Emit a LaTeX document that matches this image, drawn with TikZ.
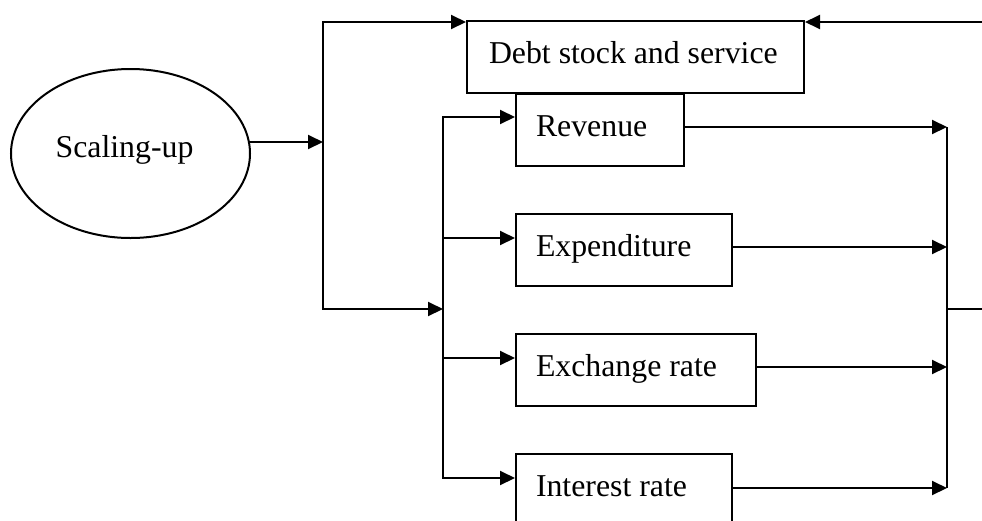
\documentclass[tikz,border=0pt]{standalone}
\usepackage{fontspec}
\setmainfont{Liberation Serif}
\usetikzlibrary{arrows.meta,shapes.geometric}
\tikzset{
  lbl/.style={font=\fontsize{31.8pt}{38pt}\selectfont},
  box/.style={lbl,draw,line width=2pt,rectangle,anchor=north west,
    inner ysep=0pt,text height=42pt,text depth=30pt},
  oval/.style={lbl,draw,line width=2pt,ellipse,inner sep=0pt,
    minimum width=239pt,minimum height=169pt,text height=20pt,text depth=13pt},
  conn/.style={line width=2pt,line join=miter},
  arr/.style={conn,-{Triangle[length=15pt,width=14pt]}},
  darr/.style={conn,{Triangle[length=15pt,width=14pt]}-{Triangle[length=15pt,width=14pt]}}
}
\begin{document}
\begin{tikzpicture}[x=1pt,y=-1pt]
\clip (0,0) rectangle (982,520);
% nodes
\node[oval] (ell) at (130.5,153.5) {Scaling-up\kern12pt};
\node[box,inner xsep=22pt] (debt) at (466,20) {\makebox[293pt][l]{Debt stock and service}};
\node[box,inner xsep=20pt] (rev) at (515,93) {\makebox[128pt][l]{Revenue}};
\node[box,inner xsep=20pt] (exp) at (515,213) {\makebox[176pt][l]{Expenditure}};
\node[box,inner xsep=20pt] (exr) at (515,333) {\makebox[200pt][l]{Exchange rate}};
\node[box,inner xsep=20pt] (int) at (515,453) {\makebox[176pt][l]{Interest rate}};
% junction coordinates
\coordinate (jL) at (323,142);
\coordinate (c1) at (323,22);
\coordinate (c2) at (323,309);
\coordinate (j2) at (443,309);
\coordinate (lb1) at (443,117);
\coordinate (lb2) at (443,238);
\coordinate (lb3) at (443,358);
\coordinate (lb4) at (443,478);
\coordinate (rb1) at (947,127);
\coordinate (rb2) at (947,247);
\coordinate (rb3) at (947,367);
\coordinate (rb4) at (947,488);
\coordinate (rm) at (947,309);
\coordinate (ro) at (984,309);
\coordinate (rt) at (984,22);
% connectors
\draw[arr] (ell.5.5 |- jL) -- (jL);
\draw[darr] (debt.west |- c1) -- (c1) -- (c2) -- (j2);
\draw[darr] (rev.west |- lb1) -- (lb1) -- (lb4) -- (int.west |- lb4);
\draw[arr] (lb2) -- (exp.west |- lb2);
\draw[arr] (lb3) -- (exr.west |- lb3);
\draw[arr] (rev.east |- rb1) -- (rb1);
\draw[arr] (exp.east |- rb2) -- (rb2);
\draw[arr] (exr.east |- rb3) -- (rb3);
\draw[arr] (int.east |- rb4) -- (rb4);
\draw[conn] (rb1) -- (rb4);
\draw[conn] (rm) -- (ro);
\draw[arr] (rt) -- (debt.east |- rt);
\end{tikzpicture}
\end{document}
